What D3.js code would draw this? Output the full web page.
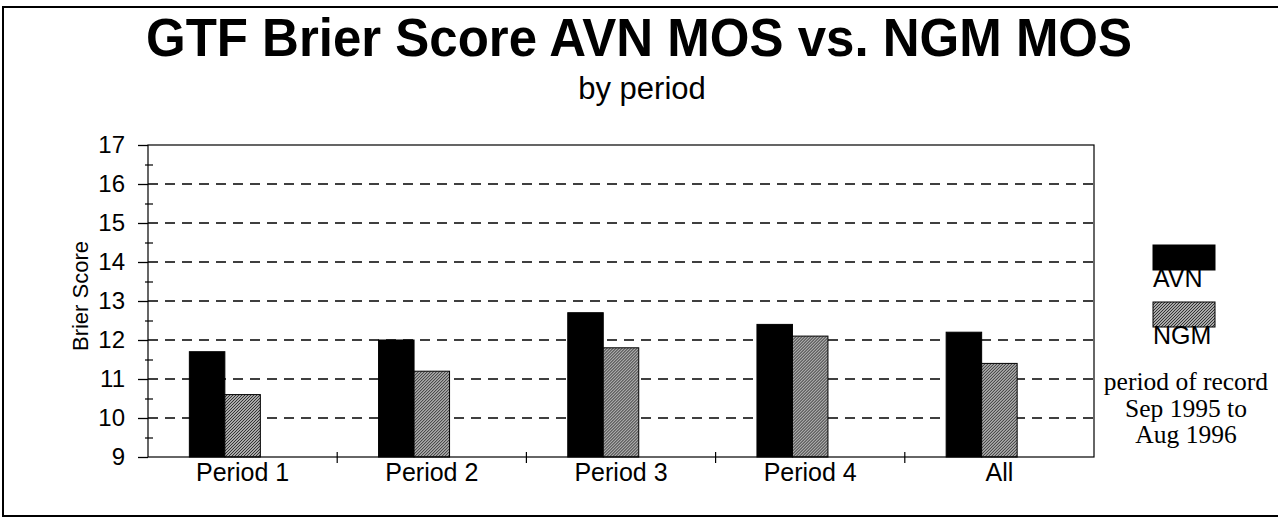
<!DOCTYPE html>
<html>
<head>
<meta charset="utf-8">
<script src="https://cdn.jsdelivr.net/npm/d3@7"></script>
<style>
  body { margin: 0; background: #fff; }
  svg { display: block; font-family: "Liberation Sans", Arial, sans-serif; }
</style>
</head>
<body>
<div id="chart"></div>
<script>
// data
var categories = ["Period 1", "Period 2", "Period 3", "Period 4", "All"];
var avnScores = [11.7, 12.0, 12.7, 12.4, 12.2];
var ngmScores = [10.6, 11.2, 11.8, 12.1, 11.4];
var seriesNames = ["AVN", "NGM"];
var yTicks = [9, 10, 11, 12, 13, 14, 15, 16, 17];
var yMinorTicks = [9.5, 10.5, 11.5, 12.5, 13.5, 14.5, 15.5, 16.5];
var noteLines = ["period of record", "Sep 1995 to", "Aug 1996"];

var width = 1278;
var height = 518;
var plot = { left: 148, right: 1094, top: 145, bottom: 457 };

var svg = d3.select("#chart").append("svg")
  .attr("width", width).attr("height", height);

// hatch for the NGM bars
var defs = svg.append("defs");
var pat = defs.append("pattern")
  .attr("id", "hatch")
  .attr("patternUnits", "userSpaceOnUse")
  .attr("width", 3).attr("height", 3);
pat.append("rect").attr("width", 3).attr("height", 3).attr("fill", "#a9a9a9");
pat.append("path").attr("d", "M-1,1 L1,-1 M0,3 L3,0 M2,4 L4,2")
  .attr("stroke", "#333").attr("stroke-width", 1);

// outer border
svg.append("rect")
  .attr("x", 3).attr("y", 7).attr("width", width + 20).attr("height", 509)
  .attr("fill", "none").attr("stroke", "#000").attr("stroke-width", 2);

// titles
svg.append("text")
  .attr("transform", "translate(639,56) scale(1,1.06)")
  .attr("text-anchor", "middle")
  .style("font-size", "51px").style("font-weight", "bold")
  .text("GTF Brier Score AVN MOS vs. NGM MOS");
svg.append("text")
  .attr("x", 642).attr("y", 99)
  .attr("text-anchor", "middle")
  .style("font-size", "31px")
  .text("by period");

// scales
var x = d3.scaleBand().domain(categories).range([plot.left, plot.right]);
var xInner = d3.scaleBand()
  .domain(seriesNames.concat(["(spare)"]))
  .range([0, x.bandwidth()])
  .paddingOuter(1.165);
var y = d3.scaleLinear().domain([9, 17]).range([plot.bottom, plot.top]);

// dashed grid
svg.append("g")
  .selectAll("line")
  .data(yTicks.filter(function (d) { return d > 9 && d < 17; }))
  .enter().append("line")
  .attr("x1", plot.left).attr("x2", plot.right)
  .attr("y1", function (d) { return y(d); })
  .attr("y2", function (d) { return y(d); })
  .attr("stroke", "#000").attr("stroke-width", 1.5)
  .attr("stroke-dasharray", "10,7");

// bars
var rows = categories.map(function (c, i) {
  return { category: c, values: [
    { series: "AVN", value: avnScores[i] },
    { series: "NGM", value: ngmScores[i] }
  ] };
});
var groups = svg.append("g").selectAll("g")
  .data(rows).enter().append("g")
  .attr("transform", function (d) { return "translate(" + x(d.category) + ",0)"; });
groups.selectAll("rect")
  .data(function (d) { return d.values; })
  .enter().append("rect")
  .attr("x", function (d) { return xInner(d.series); })
  .attr("width", xInner.bandwidth())
  .attr("y", function (d) { return y(d.value); })
  .attr("height", function (d) { return y(9) - y(d.value); })
  .attr("fill", function (d) { return d.series === "AVN" ? "#000" : "url(#hatch)"; })
  .attr("stroke", "#000").attr("stroke-width", 1);

// plot frame
svg.append("rect")
  .attr("x", plot.left).attr("y", plot.top)
  .attr("width", plot.right - plot.left).attr("height", plot.bottom - plot.top)
  .attr("fill", "none").attr("stroke", "#000").attr("stroke-width", 1.2);

// y axis
var yAxis = svg.append("g")
  .attr("transform", "translate(" + plot.left + ",0)")
  .call(d3.axisLeft(y).tickValues(yTicks).tickSize(10).tickPadding(13).tickFormat(d3.format("d")));
yAxis.select(".domain").remove();
yAxis.selectAll("text").style("font-size", "24px").attr("fill", "#000")
  .style("font-family", "'Liberation Sans', Arial, sans-serif");
yAxis.selectAll("line").attr("stroke-width", 1.3);

var yMinor = svg.append("g")
  .attr("transform", "translate(" + (plot.left - 3) + ",0)")
  .call(d3.axisRight(y).tickValues(yMinorTicks).tickSize(8).tickFormat(""));
yMinor.select(".domain").remove();
yMinor.selectAll("line").attr("stroke-width", 1.2);

// x axis category separators
svg.append("g").selectAll("line")
  .data(categories.slice(1))
  .enter().append("line")
  .attr("x1", function (d) { return x(d); })
  .attr("x2", function (d) { return x(d); })
  .attr("y1", plot.bottom - 5).attr("y2", plot.bottom + 6)
  .attr("stroke", "#000").attr("stroke-width", 1.2);

svg.append("g").selectAll("text")
  .data(categories)
  .enter().append("text")
  .attr("x", function (d) { return x(d) + x.bandwidth() / 2; })
  .attr("y", 481)
  .attr("text-anchor", "middle")
  .style("font-size", "25px")
  .text(function (d) { return d; });

// y axis title
svg.append("text")
  .attr("transform", "translate(88,296) rotate(-90)")
  .attr("text-anchor", "middle")
  .style("font-size", "22px")
  .text("Brier Score");

// legend
var legend = svg.append("g").selectAll("g")
  .data(seriesNames).enter().append("g")
  .attr("transform", function (d, i) { return "translate(1153," + (245 + i * 57) + ")"; });
legend.append("rect")
  .attr("width", 62).attr("height", 25)
  .attr("fill", function (d) { return d === "AVN" ? "#000" : "url(#hatch)"; })
  .attr("stroke", "#000").attr("stroke-width", 1);
legend.append("text")
  .attr("x", 0).attr("y", 42)
  .style("font-size", "25px")
  .text(function (d) { return d; });

// period of record note
svg.append("g").selectAll("text")
  .data(noteLines).enter().append("text")
  .attr("x", 1186)
  .attr("y", function (d, i) { return 390 + i * 26.5; })
  .attr("text-anchor", "middle")
  .style("font-family", "'Liberation Serif', 'Times New Roman', serif")
  .style("font-size", "25.5px")
  .text(function (d) { return d; });
</script>
</body>
</html>
